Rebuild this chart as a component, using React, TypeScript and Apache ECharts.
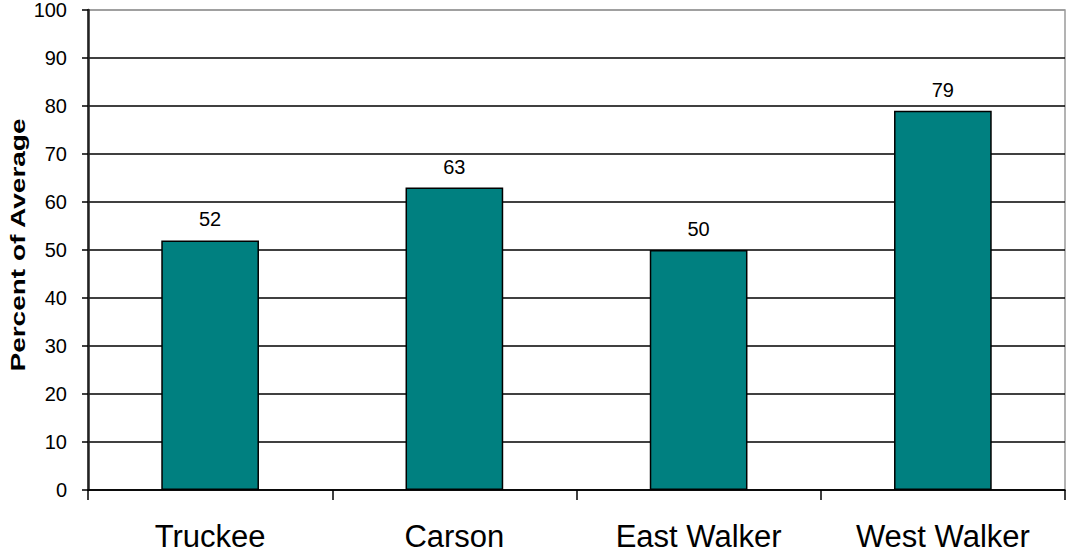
import React, { useEffect, useRef } from "react";
import * as echarts from "echarts";

const categories = ["Truckee", "Carson", "East Walker", "West Walker"];
const values = [52, 63, 50, 79];
const yTicks = [0, 10, 20, 30, 40, 50, 60, 70, 80, 90, 100];
const yTitle = "Percent of Average";

export default function App() {
  const ref = useRef<HTMLDivElement>(null);
  useEffect(() => {
    if (!ref.current) return;
    const chart = echarts.init(ref.current, null, { renderer: "svg" });
    const splitColors = yTicks.map((t, i) => (i === yTicks.length - 1 ? "#9a9a9a" : "#000"));
    chart.setOption({
      animation: false,
      backgroundColor: "#ffffff",
      textStyle: { fontFamily: "Liberation Sans, Arial, sans-serif" },
      grid: {
        left: 88,
        top: 9,
        right: 2,
        bottom: 66,
        show: true,
        borderColor: "#9a9a9a",
        borderWidth: 1.5,
      },
      graphic: [
        {
          type: "text",
          x: 18,
          y: 245,
          rotation: Math.PI / 2,
          scaleY: 0.75,
          style: {
            text: yTitle,
            fontSize: 28,
            fontWeight: "bold",
            fontFamily: "Liberation Sans, Arial, sans-serif",
            fill: "#000",
            textAlign: "center",
            textVerticalAlign: "middle",
          },
        },
      ],
      xAxis: {
        type: "category",
        data: categories,
        axisLine: { lineStyle: { color: "#000", width: 1.5 } },
        axisTick: { show: true, length: 10, lineStyle: { color: "#000", width: 1.5 } },
        axisLabel: { color: "#000", fontSize: 31, margin: 31 },
      },
      yAxis: {
        type: "value",
        min: yTicks[0],
        max: yTicks[yTicks.length - 1],
        interval: 10,
        axisLine: { show: true, lineStyle: { color: "#222", width: 2.5 } },
        axisTick: { show: true, length: 6, lineStyle: { color: "#000", width: 1.5 } },
        axisLabel: { color: "#000", fontSize: 20, margin: 21 },
        splitLine: { show: true, lineStyle: { color: splitColors, width: 1.5 } },
      },
      series: [
        {
          type: "bar",
          data: values,
          barWidth: "40%",
          itemStyle: { color: "#008080", borderColor: "#000", borderWidth: 1.5 },
          label: { show: true, position: "top", color: "#000", fontSize: 20, distance: 11 },
        },
      ],
    });
    return () => chart.dispose();
  }, []);
  return <div ref={ref} style={{ position: "fixed", left: 0, top: 0, width: 1067, height: 556 }} />;
}
